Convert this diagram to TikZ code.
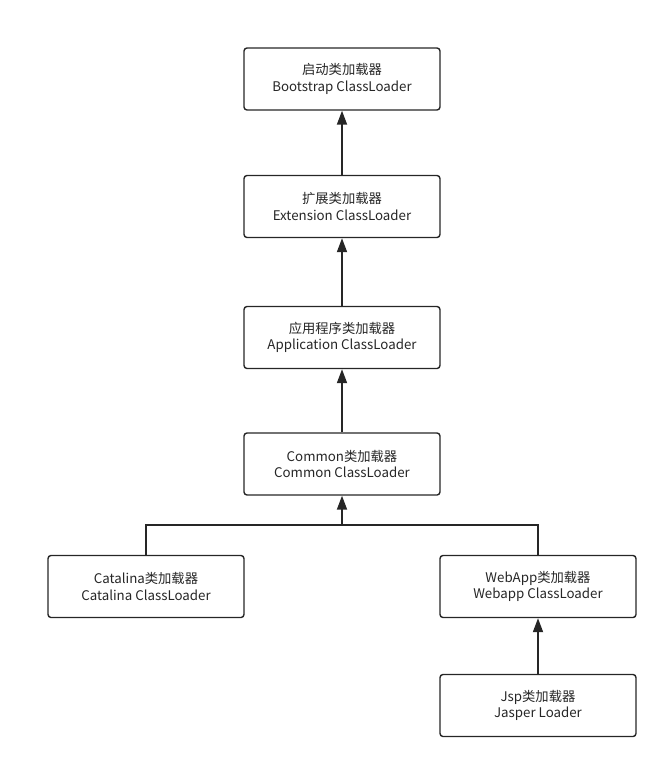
\documentclass[tikz,border=0pt]{standalone}
\usepackage{fontspec}
\setmainfont{Noto Sans CJK SC}
\usetikzlibrary{arrows.meta}
\begin{document}
\begin{tikzpicture}[x=1pt,y=-1pt,
  box/.style={draw=black!85,line width=1.4pt,rounded corners=3pt,minimum width=196pt,minimum height=62pt,align=center,font=\fontsize{13.3}{16.5}\selectfont,text=black!85,inner sep=0pt},
  conn/.style={draw=black!85,line width=1.8pt},
  arr/.style={conn,-{Triangle[length=14pt,width=10pt]}}]
\useasboundingbox (0,0) rectangle (668,769);
\node[box] (boot) at (342,79) {启动类加载器\\Bootstrap ClassLoader};
\node[box] (ext) at (342,206.5) {扩展类加载器\\Extension ClassLoader};
\node[box] (app) at (342,337.5) {应用程序类加载器\\Application ClassLoader};
\node[box] (com) at (342,464) {Common类加载器\\Common ClassLoader};
\node[box] (cat) at (146,586.5) {Catalina类加载器\\Catalina ClassLoader};
\node[box] (web) at (538,586.5) {WebApp类加载器\\Webapp ClassLoader};
\node[box] (jsp) at (538,705.5) {Jsp类加载器\\Jasper Loader};
\coordinate (j) at (342,525);
\draw[arr] (ext) -- (boot);
\draw[arr] (app) -- (ext);
\draw[arr] (com) -- (app);
\draw[arr] (jsp) -- (web);
\draw[conn] (cat.north) |- (j) -| (web.north);
\draw[arr] (j) -- (com.south);
\end{tikzpicture}
\end{document}
